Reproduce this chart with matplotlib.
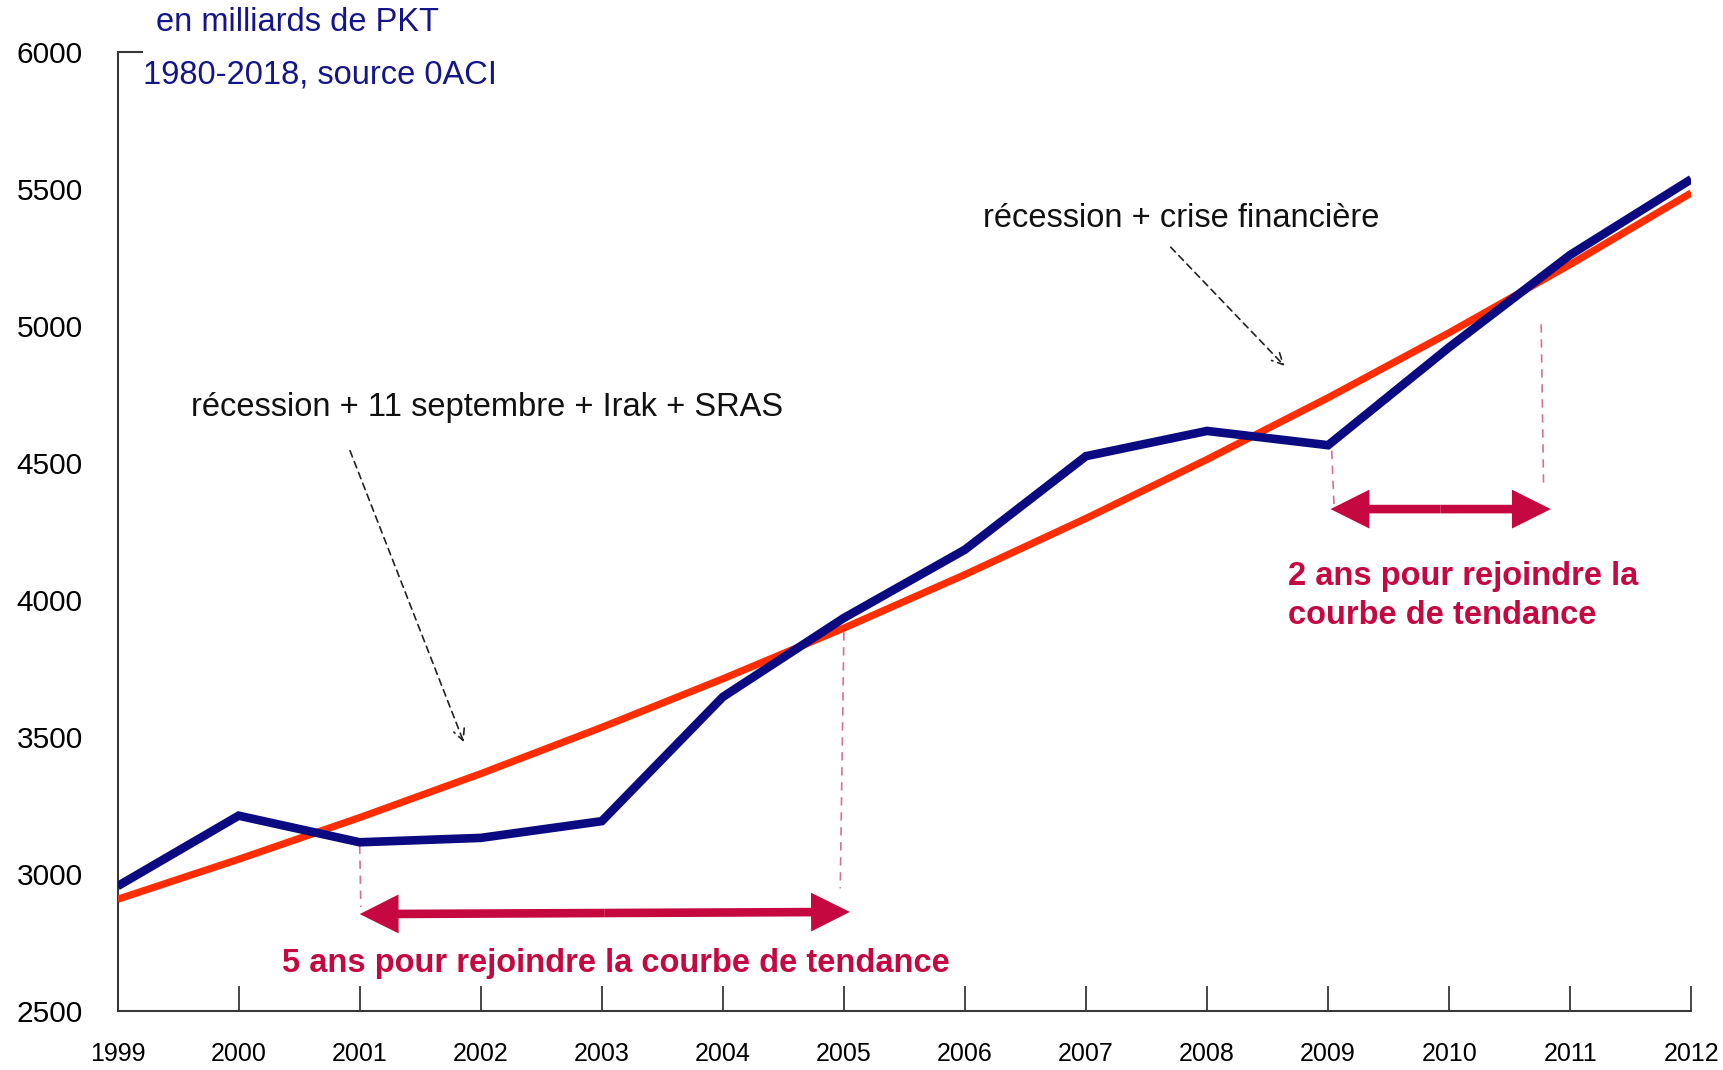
import matplotlib
matplotlib.use("Agg")
import matplotlib.pyplot as plt
from matplotlib.patches import FancyArrowPatch

plt.rcParams['font.family'] = ['Liberation Sans', 'DejaVu Sans']

years = [1999, 2000, 2001, 2002, 2003, 2004, 2005, 2006, 2007, 2008, 2009, 2010, 2011, 2012]
traffic = [2957, 3214, 3117, 3133, 3194, 3647, 3935, 4184, 4525, 4617, 4565, 4922, 5259, 5535]
trend = [2909, 3055, 3207, 3367, 3536, 3713, 3898, 4093, 4298, 4513, 4738, 4975, 5224, 5485]
yticks = [2500, 3000, 3500, 4000, 4500, 5000, 5500, 6000]

# annotation anchors (data coords)
gap1 = (2001.0, 2005.05)
gap2 = (2009.02, 2010.84)

NAVY = '#0B0A80'
RED = '#FF2D00'
CRIMSON = '#C5083F'
PINK = '#D8708E'
FS = 23.5

fig = plt.figure(figsize=(17.24, 10.70), dpi=100)
ax = fig.add_axes([0.0682, 0.0547, 0.9128, 0.897])

ax.plot(years, trend, color=RED, lw=5.2, solid_capstyle='butt', zorder=3)
ax.plot(years, traffic, color=NAVY, lw=6.2, solid_joinstyle='miter', solid_capstyle='butt', zorder=4)

ax.set_xlim(1999, 2012)
ax.set_ylim(2500, 6000)
ax.set_xticks(years)
ax.set_xticklabels([str(y) for y in years], fontsize=18)
ax.set_yticks(yticks)
ax.set_yticklabels([str(v) for v in yticks], fontsize=21.5)

for s in ['top', 'right']:
    ax.spines[s].set_visible(False)
for s in ['left', 'bottom']:
    ax.spines[s].set_color('#383838')
    ax.spines[s].set_linewidth(1.5)

ax.tick_params(axis='x', direction='in', length=18, width=1.3, color='#383838', pad=22)
ax.tick_params(axis='y', length=0, pad=25)
# small stub at top of y axis
ax.plot([0, 0.0155], [1, 1], transform=ax.transAxes, color='#383838', lw=1.5, clip_on=False)

# header texts
fig.text(0.0905, 0.979, 'en milliards de PKT', color='#15158A', fontsize=FS, va='center', ha='left')
fig.text(0.083, 0.930, '1980-2018, source 0ACI', color='#15158A', fontsize=FS, va='center', ha='left')

# event annotations
ax.text(2002.05, 4701, 'récession + 11 septembre + Irak + SRAS', fontsize=FS, ha='center', va='center', color='#111111')
ax.annotate('', xy=(2001.86, 3482), xytext=(2000.92, 4545),
            arrowprops=dict(arrowstyle='->', linestyle=(0, (4, 3)), lw=1.2, color='#222222',
                            mutation_scale=20, shrinkA=0, shrinkB=0))
ax.text(2007.79, 5391, 'récession + crise financière', fontsize=FS, ha='center', va='center', color='#111111')
ax.annotate('', xy=(2008.64, 4854), xytext=(2007.70, 5287),
            arrowprops=dict(arrowstyle='->', linestyle=(0, (4, 3)), lw=1.2, color='#222222',
                            mutation_scale=20, shrinkA=0, shrinkB=0))

# pink dashed guides
dash = dict(color=PINK, lw=1.2, linestyle=(0, (5, 4)), zorder=2)
ax.plot([2001.0, 2001.01], [3105, 2881], **dash)
ax.plot([2005.0, 2004.97], [3883, 2949], **dash)
ax.plot([2009.03, 2009.05], [4545, 4336], **dash)
ax.plot([2010.76, 2010.78], [5006, 4425], **dash)

def double_arrow(x0, x1, y0, y1):
    xm, ym = (x0 + x1) / 2, (y0 + y1) / 2
    for (xe, ye) in [(x0, y0), (x1, y1)]:
        p = FancyArrowPatch((xm, ym), (xe, ye),
                            arrowstyle='simple,head_length=28,head_width=28,tail_width=6.2',
                            mutation_scale=1, color=CRIMSON, lw=0, shrinkA=0, shrinkB=0, zorder=5)
        ax.add_patch(p)

double_arrow(gap1[0], gap1[1], 2855, 2863)
double_arrow(gap2[0], gap2[1], 4332, 4332)

ax.text(2003.12, 2676, '5 ans pour rejoindre la courbe de tendance', fontsize=FS, fontweight='bold',
        color=CRIMSON, ha='center', va='center')
ax.text(2008.67, 4088, '2 ans pour rejoindre la', fontsize=FS, fontweight='bold',
        color=CRIMSON, ha='left', va='center')
ax.text(2008.67, 3943, 'courbe de tendance', fontsize=FS, fontweight='bold',
        color=CRIMSON, ha='left', va='center')

fig.savefig('out.png', dpi=100)
